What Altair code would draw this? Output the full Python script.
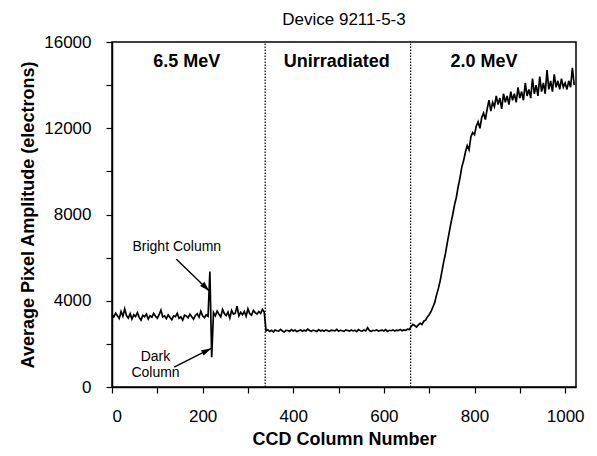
import altair as alt
import pandas as pd

# ---- data (CCD column -> average pixel amplitude) ----
# 6.5 MeV region, columns 0..212 (every 4th column)
amp_65_left = [3350, 3250, 3420, 3300, 3180, 3500,
               3280, 3620, 3310, 3200, 3400, 3150,
               3350, 3270, 3450, 3230, 3100, 3320,
               3260, 3380, 3150, 3300, 3240, 3410,
               3280, 3190, 3350, 3560, 3250, 3300,
               3170, 3340, 3220, 3120, 3300, 3260,
               3420, 3180, 3250, 3100, 3330, 3290,
               3210, 3380, 3260, 3150, 3320, 3400,
               3240, 3510, 3300, 3220, 3350, 3280]
# bright column (216) and dark column (220)
amp_spike = [5350, 1380]
# 6.5 MeV region, columns 224..336
amp_65_right = [3450, 3300, 3520, 3380, 3250, 3600, 3400, 3310, 3480, 3200,
                3550, 3380, 3420, 3750, 3300, 3460, 3350, 3500, 3280, 3620,
                3400, 3330, 3550, 3450, 3380, 3500, 3420, 3600, 3480]
# unirradiated region, columns 340..656
amp_unirr = [2600, 2650, 2580, 2630, 2560, 2640, 2610, 2590, 2670, 2600,
             2550, 2630, 2620, 2580, 2660, 2600, 2640, 2570, 2610, 2650,
             2590, 2630, 2600, 2680, 2620, 2580, 2640, 2610, 2570, 2660,
             2600, 2630, 2590, 2650, 2610, 2580, 2640, 2620, 2600, 2670,
             2590, 2630, 2610, 2580, 2650, 2620, 2590, 2640, 2600, 2630,
             2570, 2660, 2610, 2590, 2640, 2600, 2750, 2620, 2580, 2630,
             2610, 2650, 2590, 2620, 2640, 2600, 2660, 2580, 2630, 2610,
             2650, 2600, 2640, 2620, 2670, 2610, 2650, 2630, 2680, 2660]
# 2.0 MeV region, columns 660..1020
amp_20 = [2800, 2900, 2850, 2780, 2880, 2950, 2900, 3050, 3100, 3250,
          3350, 3500, 3700, 3900, 4250, 4550, 4900, 5350, 5800, 6200,
          6700, 7150, 7600, 8000, 8450, 8800, 9300, 9700, 10200, 10500,
          10900, 11200, 11000, 11600, 11800, 11700, 12100, 12300, 12000, 12500,
          12700, 12400, 12900, 13300, 12800, 13200, 13000, 13500, 13100, 13400,
          12900, 13600, 13200, 13500, 13100, 13700, 13300, 13600, 13200, 13900,
          13400, 13700, 13300, 14100, 13500, 13800, 13400, 14300, 13600, 14000,
          13500, 14400, 13700, 14100, 13600, 14700, 13800, 14200, 13700, 14500,
          13900, 14200, 13800, 14300, 13900, 14100, 13800, 14200, 13900, 14800,
          14000]
segment_starts = [0, 216, 224, 340, 660]
column_step = 4

# region boundaries and labels
boundary_cols = [338, 659]
region_names = ["6.5 MeV", "Unirradiated", "2.0 MeV"]
region_cols = [165, 496, 821]
region_y = [15050, 15050, 15050]

# annotations
note_texts = ["Bright Column", "Dark", "Column"]
note_cols = [143, 96, 96]
note_y = [6510, 1395, 651]
arrow_x1 = [141.6, 137.2]
arrow_y1 = [5940, 916]
arrow_x2 = [214.6, 219.0]
arrow_y2 = [4450, 1790]
arrow_angle = [136, 63]

FONT = "Liberation Sans"

rows = []
for start, seg in zip(segment_starts, [amp_65_left, amp_spike, amp_65_right, amp_unirr, amp_20]):
    for i, v in enumerate(seg):
        rows.append({"col": start + column_step * i, "amp": v})
df = pd.DataFrame(rows)

xscale = alt.Scale(domain=[0, 1024], nice=False, zero=False)
yscale = alt.Scale(domain=[0, 16000], nice=False)

xaxis = alt.Axis(values=list(range(0, 1001, 50)),
                 labelExpr="datum.value % 200 === 0 ? datum.label : ''",
                 format="d", title="CCD Column Number", titlePadding=6)
yaxis = alt.Axis(values=list(range(0, 16001, 1000)),
                 labelExpr="datum.value % 4000 === 0 ? datum.label : ''",
                 format="d", title="Average Pixel Amplitude (electrons)", titlePadding=6)

line = alt.Chart(df).mark_line(color="black", strokeWidth=1.7).encode(
    x=alt.X("col:Q", scale=xscale, axis=xaxis),
    y=alt.Y("amp:Q", scale=yscale, axis=yaxis),
)

bdf = pd.DataFrame({"col": boundary_cols, "y0": [0, 0], "y1": [16000, 16000]})
bounds = alt.Chart(bdf).mark_rule(color="black", strokeWidth=1.2, strokeDash=[1.5, 1.5]).encode(
    x=alt.X("col:Q", scale=xscale), y=alt.Y("y0:Q", scale=yscale), y2="y1:Q")

rdf = pd.DataFrame({"col": region_cols, "y": region_y, "t": region_names})
regions = alt.Chart(rdf).mark_text(font=FONT, fontSize=18, fontWeight="bold", color="black").encode(
    x=alt.X("col:Q", scale=xscale), y=alt.Y("y:Q", scale=yscale), text="t:N")

ndf = pd.DataFrame({"col": note_cols, "y": note_y, "t": note_texts})
notes = alt.Chart(ndf).mark_text(font=FONT, fontSize=14, color="black").encode(
    x=alt.X("col:Q", scale=xscale), y=alt.Y("y:Q", scale=yscale), text="t:N")

adf = pd.DataFrame({"x1": arrow_x1, "y1": arrow_y1, "x2": arrow_x2, "y2": arrow_y2, "ang": arrow_angle})
arrow_lines = alt.Chart(adf).mark_rule(color="black", strokeWidth=1.4).encode(
    x=alt.X("x1:Q", scale=xscale), y=alt.Y("y1:Q", scale=yscale), x2="x2:Q", y2="y2:Q")
arrow_heads = alt.Chart(adf).mark_point(shape="M0,0L-0.6,2L0.6,2Z", filled=True, color="black",
                                        size=100, opacity=1).encode(
    x=alt.X("x2:Q", scale=xscale), y=alt.Y("y2:Q", scale=yscale),
    angle=alt.Angle("ang:Q", scale=None))

chart = alt.layer(bounds, line, regions, notes, arrow_lines, arrow_heads).properties(
    width=464, height=345,
    autosize=alt.AutoSizeParams(type="none"),
    padding={"left": 104, "top": 34, "right": 13, "bottom": 62},
    background="white",
    title=alt.TitleParams("Device 9211-5-3", font=FONT, fontSize=17, fontWeight="normal",
                          color="black", offset=4, anchor="middle"),
).configure_view(stroke="black", strokeWidth=1.5).configure_axis(
    grid=False, domainColor="black", domainWidth=1.5, tickColor="black", tickWidth=1.2,
    tickSize=6, labelFont=FONT, labelFontSize=17, labelColor="black", labelPadding=15,
    titleFont=FONT, titleFontSize=18, titleFontWeight="bold", titleColor="black",
)

chart.save("out.html", embed_options={"renderer": "svg", "actions": False})
